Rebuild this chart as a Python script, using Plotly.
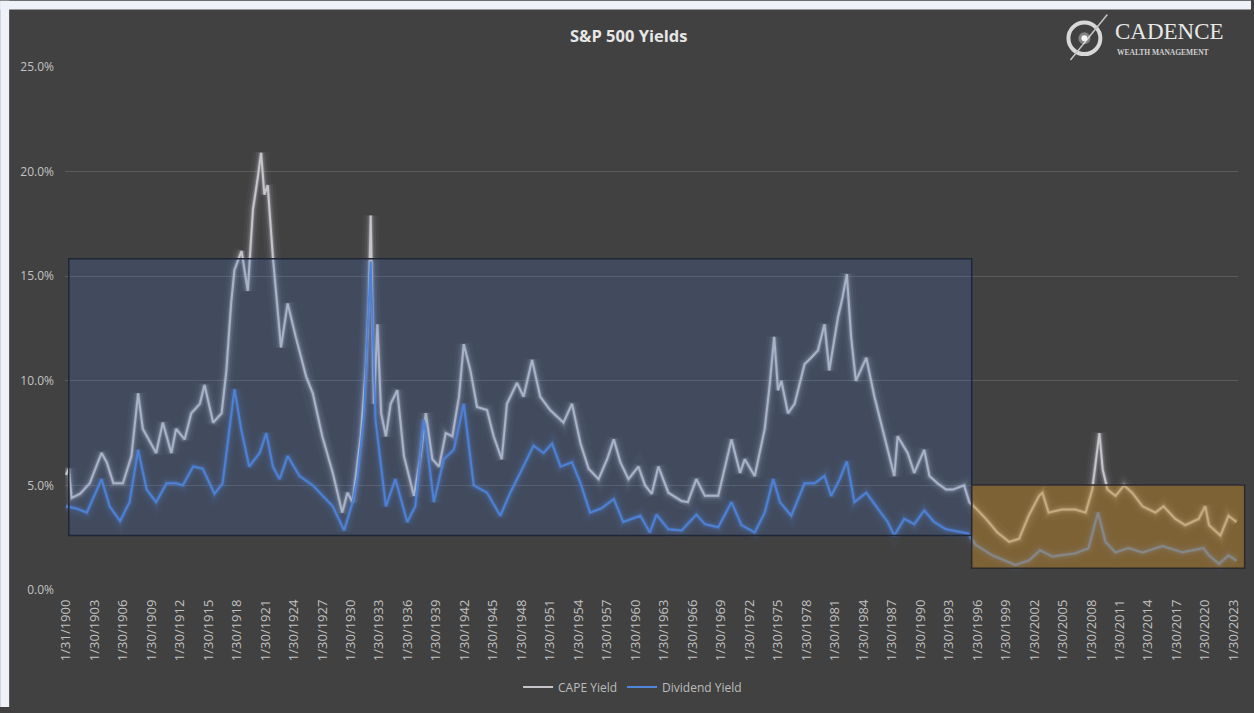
import plotly.graph_objects as go

# ---------------- data ----------------
cape_t = [1900.0, 1900.3, 1900.6, 1901.5, 1902.5, 1903.75, 1904.3, 1905.0, 1906.0, 1906.9,
          1907.6, 1908.1, 1909.5, 1910.2, 1911.1, 1911.6, 1912.5, 1913.2, 1914.1, 1914.6,
          1915.5, 1916.4, 1916.9, 1917.4, 1917.75, 1918.5, 1919.15, 1919.7, 1920.2, 1920.55,
          1920.9, 1921.25, 1921.8, 1922.65, 1923.35, 1924.2, 1925.3, 1926.0, 1927.0, 1928.1,
          1929.1, 1929.65, 1930.2, 1930.7, 1931.05, 1931.6, 1931.9, 1932.1, 1932.45, 1932.8,
          1933.2, 1933.7, 1934.2, 1934.9, 1935.6, 1936.65, 1937.35, 1937.9, 1938.6, 1939.3,
          1940.0, 1940.7, 1941.4, 1941.9, 1942.6, 1943.3, 1944.35, 1945.05, 1945.9, 1946.45,
          1947.5, 1948.2, 1949.1, 1949.95, 1951.0, 1952.4, 1953.3, 1954.2, 1955.05, 1956.1,
          1957.0, 1957.7, 1958.4, 1959.25, 1960.3, 1961.0, 1961.7, 1962.4, 1963.45, 1964.85,
          1965.5, 1966.4, 1967.3, 1968.7, 1970.1, 1971.0, 1971.5, 1972.55, 1973.6, 1974.1,
          1974.6, 1975.0, 1975.35, 1976.05, 1976.75, 1977.8, 1978.5, 1979.2, 1979.9, 1980.4,
          1981.3, 1981.8, 1982.25, 1982.7, 1983.2, 1984.3, 1985.15, 1986.2, 1987.25, 1987.6,
          1988.65, 1989.35, 1990.4, 1990.95, 1991.8, 1992.7, 1993.4, 1994.6, 1995.15, 1995.85,
          1996.9, 1998.1, 1999.35, 2000.4, 2001.4, 2002.5, 2002.85, 2003.5, 2004.9, 2006.3,
          2007.4, 2008.1, 2008.5, 2008.85, 2009.2, 2009.7, 2010.55, 2011.45, 2012.3, 2013.4,
          2014.75, 2015.6, 2016.85, 2017.9, 2019.3, 2020.0, 2020.4, 2021.6, 2022.45, 2023.3]
cape_yield = [5.5, 5.8, 4.4, 4.6, 5.1, 6.55, 6.1, 5.1, 5.1, 6.4,
              9.4, 7.7, 6.55, 8.0, 6.55, 7.7, 7.2, 8.45, 8.9, 9.8,
              8.0, 8.45, 10.5, 13.7, 15.3, 16.2, 14.3, 18.2, 19.7, 20.9,
              18.9, 19.35, 15.9, 11.6, 13.7, 12.1, 10.2, 9.4, 7.35, 5.6,
              3.7, 4.65, 4.2, 6.1, 7.35, 10.7, 13.7, 17.9, 8.9, 12.7,
              8.45, 7.35, 8.9, 9.55, 6.4, 4.5, 6.4, 8.45, 6.25, 5.9,
              7.5, 7.35, 9.25, 11.75, 10.5, 8.75, 8.6, 7.35, 6.25, 8.9,
              9.9, 9.25, 11.0, 9.25, 8.6, 8.0, 8.9, 7.0, 5.8, 5.3,
              6.25, 7.2, 6.1, 5.3, 5.9, 5.0, 4.6, 5.9, 4.65, 4.25,
              4.2, 5.3, 4.5, 4.5, 7.2, 5.6, 6.25, 5.45, 7.7, 9.7,
              12.1, 9.55, 10.0, 8.45, 8.9, 10.8, 11.1, 11.45, 12.7, 10.5,
              13.0, 14.0, 15.1, 12.1, 10.0, 11.1, 9.25, 7.35, 5.45, 7.35,
              6.55, 5.6, 6.7, 5.45, 5.1, 4.8, 4.8, 5.0, 4.2, 3.9,
              3.4, 2.75, 2.3, 2.45, 3.55, 4.5, 4.65, 3.7, 3.85, 3.85,
              3.7, 4.8, 6.4, 7.5, 5.75, 4.8, 4.5, 5.0, 4.65, 4.0,
              3.7, 4.0, 3.4, 3.1, 3.4, 4.0, 3.1, 2.6, 3.55, 3.25]

div_t = [1900.0, 1901.1, 1902.2, 1903.75, 1904.6, 1905.7, 1906.7, 1907.6, 1908.5, 1909.5,
         1910.6, 1911.6, 1912.3, 1913.4, 1914.4, 1915.65, 1916.5, 1917.75, 1918.45, 1919.3,
         1920.4, 1921.1, 1921.8, 1922.5, 1923.35, 1924.6, 1926.0, 1927.0, 1928.1, 1929.3,
         1930.2, 1930.7, 1931.4, 1931.9, 1932.1, 1932.6, 1933.2, 1933.7, 1934.7, 1935.95,
         1936.8, 1937.7, 1938.75, 1939.8, 1940.85, 1941.9, 1942.95, 1944.35, 1945.75, 1946.8,
         1947.85, 1949.25, 1950.3, 1951.2, 1952.1, 1953.3, 1954.2, 1955.2, 1956.4, 1957.7,
         1958.7, 1960.5, 1961.5, 1962.2, 1963.45, 1964.85, 1966.4, 1967.3, 1968.7, 1970.1,
         1971.15, 1972.55, 1973.6, 1974.5, 1975.2, 1976.4, 1977.8, 1978.85, 1979.9, 1980.6,
         1981.5, 1982.25, 1983.05, 1984.3, 1985.5, 1986.55, 1987.25, 1988.3, 1989.35, 1990.4,
         1991.45, 1992.7, 1995.0, 1995.85, 1997.6, 2000.0, 2001.4, 2002.6, 2003.9, 2006.3,
         2007.7, 2008.7, 2009.5, 2010.55, 2011.9, 2013.4, 2015.5, 2017.6, 2019.8, 2020.4,
         2021.45, 2022.45, 2023.3]
dividend_yield = [4.0, 3.9, 3.7, 5.3, 4.0, 3.3, 4.2, 6.7, 4.8, 4.2,
                  5.1, 5.1, 5.0, 5.9, 5.8, 4.6, 5.1, 9.6, 7.7, 5.9,
                  6.55, 7.5, 5.9, 5.3, 6.4, 5.45, 5.0, 4.5, 4.0, 2.85,
                  4.2, 5.4, 8.45, 13.7, 15.7, 8.15, 5.8, 4.0, 5.3, 3.25,
                  4.0, 8.15, 4.2, 6.25, 6.7, 8.9, 5.0, 4.65, 3.55, 4.65,
                  5.6, 6.9, 6.55, 7.0, 5.9, 6.1, 5.1, 3.7, 3.9, 4.35,
                  3.25, 3.55, 2.75, 3.6, 2.9, 2.85, 3.6, 3.15, 3.0, 4.2,
                  3.1, 2.75, 3.7, 5.3, 4.2, 3.55, 5.1, 5.1, 5.45, 4.5,
                  5.3, 6.15, 4.2, 4.65, 3.9, 3.25, 2.6, 3.4, 3.15, 3.8,
                  3.25, 2.9, 2.7, 2.15, 1.65, 1.2, 1.4, 1.9, 1.6, 1.75,
                  2.0, 3.7, 2.3, 1.8, 2.0, 1.8, 2.1, 1.8, 2.0, 1.65,
                  1.25, 1.65, 1.4]

tick_years = list(range(1900, 2024, 3))
tick_labels = ["1/31/1900"] + ["1/30/%d" % y for y in tick_years[1:]]
y_ticks = [0, 5, 10, 15, 20, 25]
y_labels = ["%.1f%%" % v for v in y_ticks]

# highlight boxes (in data units)
box_hist = dict(t0=1900.3, t1=1995.4, lo=2.6, hi=15.83)
box_recent = dict(t0=1995.4, t1=2024.15, lo=1.04, hi=5.02)

# ---------------- layout geometry ----------------
W, H = 1254, 713
L, R, T, B = 65, 13, 67, 118
PW, PH = W - L - R, H - T - B
XR = [1899.9, 2023.45]


def px_x(p):
    return (p - L) / PW


def px_y(p):
    return (H - B - p) / PH


def data_x(v):
    return (v - XR[0]) / (XR[1] - XR[0])


BG = "#414141"
FONT = "Open Sans"

fig = go.Figure()

# soft glow layers beneath the lines
for w, a in [(16, 0.04), (10, 0.07), (6, 0.14), (3.5, 0.25)]:
    fig.add_trace(go.Scatter(x=cape_t, y=cape_yield, mode="lines", showlegend=False, hoverinfo="skip",
                             line=dict(color="rgba(215,215,225,%.2f)" % a, width=w)))
    fig.add_trace(go.Scatter(x=div_t, y=dividend_yield, mode="lines", showlegend=False, hoverinfo="skip",
                             line=dict(color="rgba(90,140,230,%.2f)" % a, width=w)))

fig.add_trace(go.Scatter(x=cape_t, y=cape_yield, mode="lines", name="CAPE Yield",
                         line=dict(color="#c6c6ca", width=2)))
fig.add_trace(go.Scatter(x=div_t, y=dividend_yield, mode="lines", name="Dividend Yield",
                         line=dict(color="#4f86da", width=2)))

shapes = []
# highlight boxes
shapes.append(dict(type="rect", xref="x", yref="y", layer="above",
                   x0=box_hist["t0"], x1=box_hist["t1"], y0=box_hist["lo"], y1=box_hist["hi"],
                   fillcolor="rgba(68,114,196,0.22)", line=dict(color="#1e2738", width=1.5)))
shapes.append(dict(type="rect", xref="paper", yref="y", layer="above",
                   x0=data_x(box_recent["t0"]), x1=data_x(box_recent["t1"]),
                   y0=box_recent["lo"], y1=box_recent["hi"],
                   fillcolor="rgba(200,140,40,0.45)", line=dict(color="#2b2a2e", width=1.5)))
# light frame strips
shapes.append(dict(type="rect", xref="paper", yref="paper", layer="above",
                   x0=px_x(0), x1=px_x(9), y0=px_y(H), y1=px_y(0),
                   fillcolor="#eef1f8", line=dict(width=0)))
shapes.append(dict(type="rect", xref="paper", yref="paper", layer="above",
                   x0=px_x(0), x1=px_x(W), y0=px_y(9), y1=px_y(0),
                   fillcolor="#eef1f8", line=dict(width=0)))
# logo emblem
cx, cy, r = 1087, 38, 16
shapes.append(dict(type="circle", xref="paper", yref="paper", layer="above",
                   x0=px_x(cx - r), x1=px_x(cx + r), y0=px_y(cy + r), y1=px_y(cy - r),
                   line=dict(color="#d8d8d8", width=4)))
shapes.append(dict(type="line", xref="paper", yref="paper", layer="above",
                   x0=px_x(1073), y0=px_y(60), x1=px_x(1110), y1=px_y(14),
                   line=dict(color="#c4c4c4", width=1.5)))
shapes.append(dict(type="circle", xref="paper", yref="paper", layer="above",
                   x0=px_x(cx - 6), x1=px_x(cx + 6), y0=px_y(cy + 6), y1=px_y(cy - 6),
                   fillcolor="rgba(255,255,255,0.35)", line=dict(width=0)))
shapes.append(dict(type="circle", xref="paper", yref="paper", layer="above",
                   x0=px_x(cx - 3), x1=px_x(cx + 3), y0=px_y(cy + 3), y1=px_y(cy - 3),
                   fillcolor="#f6f6f6", line=dict(width=0)))

annotations = [
    dict(text="<b>S&P 500 Yields</b>", xref="paper", yref="paper", x=px_x(630), y=px_y(35),
         showarrow=False, font=dict(family=FONT, size=16.5, color="#e6e6e6"), xanchor="center", yanchor="middle"),
    dict(text="CADENCE", xref="paper", yref="paper", x=px_x(1116), y=px_y(31),
         showarrow=False, font=dict(family="Liberation Serif", size=23, color="#e8e8e8"),
         xanchor="left", yanchor="middle"),
    dict(text="<b>WEALTH MANAGEMENT</b>", xref="paper", yref="paper", x=px_x(1118), y=px_y(52),
         showarrow=False, font=dict(family="Liberation Serif", size=7.5, color="#d0d0d0"),
         xanchor="left", yanchor="middle"),
]

fig.update_layout(
    width=W, height=H,
    margin=dict(l=L, r=R, t=T, b=B, pad=0),
    paper_bgcolor=BG, plot_bgcolor=BG,
    font=dict(family=FONT, color="#bdbdbd"),
    shapes=shapes, annotations=annotations,
    showlegend=True,
    legend=dict(orientation="h", x=px_x(634), y=px_y(693), xanchor="center", yanchor="middle",
                font=dict(family=FONT, size=12, color="#bdbdbd"), bgcolor="rgba(0,0,0,0)",
                itemwidth=30),
    xaxis=dict(range=XR, tickmode="array", tickvals=tick_years, ticktext=tick_labels,
               tickangle=-90, showgrid=False, zeroline=False, showline=False, ticks="",
               tickfont=dict(family=FONT, size=13, color="#c2c2c2"), ticklabelstandoff=6),
    yaxis=dict(range=[0, 25], tickmode="array", tickvals=y_ticks, ticktext=y_labels,
               showgrid=True, gridcolor="#5b5b5b", gridwidth=1,
               zeroline=True, zerolinecolor=BG, showline=False, ticks="",
               tickfont=dict(family=FONT, size=12, color="#c2c2c2"), ticklabelstandoff=10),
)

fig.write_html("out.html")
